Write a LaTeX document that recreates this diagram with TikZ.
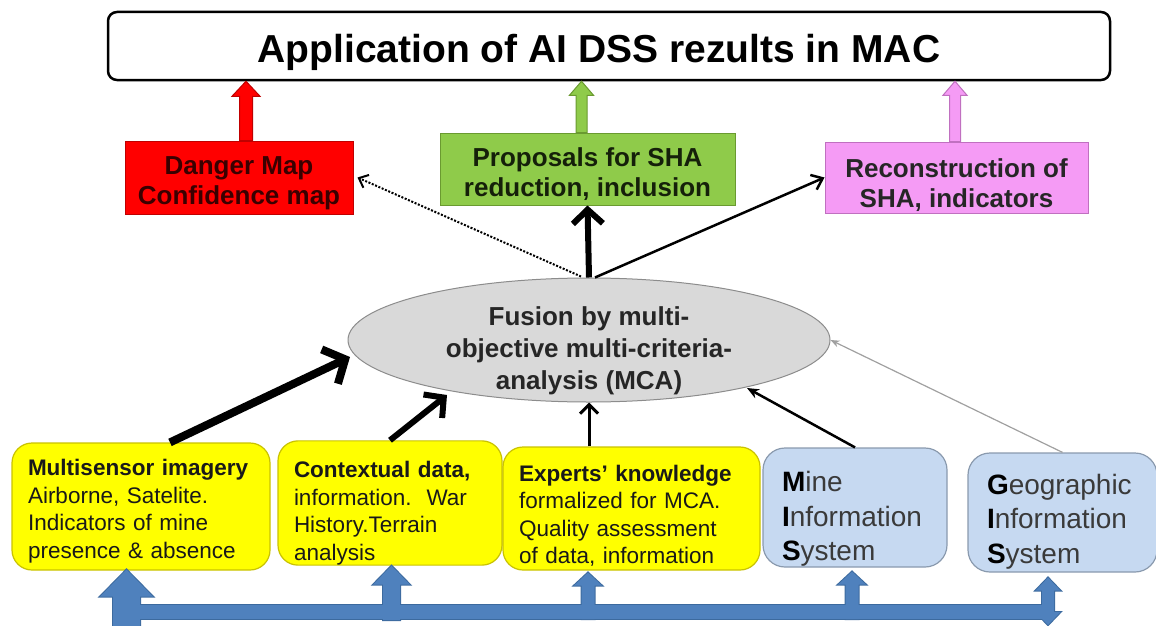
\documentclass[tikz,border=0pt]{standalone}
\usepackage{fontspec}
\setmainfont{Liberation Sans}
\usetikzlibrary{arrows.meta,calc,shapes.geometric}
\definecolor{boxyellow}{HTML}{FFFF00}
\definecolor{yellowline}{HTML}{C9C200}
\definecolor{boxblue}{HTML}{C6D9F1}
\definecolor{blueline}{HTML}{8A9AAE}
\definecolor{ellgray}{HTML}{D9D9D9}
\definecolor{ellline}{HTML}{8C8C8C}
\definecolor{dred}{HTML}{FF0000}
\definecolor{dredline}{HTML}{C00000}
\definecolor{redtext}{HTML}{3A0000}
\definecolor{lgreen}{HTML}{8FCB4A}
\definecolor{lgreenline}{HTML}{6A9A30}
\definecolor{greentext}{HTML}{15200A}
\definecolor{lpink}{HTML}{F59BF5}
\definecolor{lpinkline}{HTML}{C070C0}
\definecolor{busblue}{HTML}{4F81BD}
\definecolor{busline}{HTML}{3C6A9E}
\definecolor{bluetext}{HTML}{3A3A3A}
\definecolor{thingray}{HTML}{A0A0A0}

\hyphenpenalty=10000
\exhyphenpenalty=10000

% block arrow pointing up: #1 style, #2 bottom point, #3 tip point, #4 shaft half, #5 head half, #6 head length
\newcommand{\blockup}[6]{%
  \path[#1] let \p1=#2, \p2=#3 in
    (\x1-#4,\y1) -- (\x1-#4,\y2-#6) -- (\x1-#5,\y2-#6) -- (\x1,\y2)
    -- (\x1+#5,\y2-#6) -- (\x1+#4,\y2-#6) -- (\x1+#4,\y1) -- cycle;}
% double block arrow (up and down)
\newcommand{\blockupdown}[6]{%
  \path[#1] let \p1=#2, \p2=#3 in
    (\x1-#4,\y1+#6) -- (\x1-#4,\y2-#6) -- (\x1-#5,\y2-#6) -- (\x1,\y2)
    -- (\x1+#5,\y2-#6) -- (\x1+#4,\y2-#6) -- (\x1+#4,\y1+#6)
    -- (\x1+#5,\y1+#6) -- (\x1,\y1) -- (\x1-#5,\y1+#6) -- cycle;}
% push the text block of a node down by half of #1
\newcommand{\pushdown}[1]{\rule{0pt}{\dimexpr 0.76em+#1\relax}}

\begin{document}
\begin{tikzpicture}[x=1pt,y=-1pt,
  titlebox/.style={draw=black, line width=2.5pt, rounded corners=9pt, fill=white,
    minimum width=1002pt, minimum height=68pt, inner sep=0pt,
    font=\bfseries\fontsize{39}{42}\selectfont},
  outbox/.style={line width=1pt, minimum height=72pt, inner sep=0pt, align=center,
    font=\bfseries\fontsize{26}{30}\selectfont},
  ybox/.style={draw=yellowline, fill=boxyellow, line width=1.2pt, rounded corners=20pt,
    align=left, inner xsep=16pt, inner ysep=0pt, text=black!90,
    font=\fontsize{22.5}{27.5}\selectfont},
  bbox/.style={draw=blueline, fill=boxblue, line width=1.2pt, rounded corners=22pt,
    align=left, inner xsep=19pt, inner ysep=0pt, text=bluetext,
    font=\fontsize{28}{34.5}\selectfont},
  busout/.style={draw=busline, line width=2pt},
  busin/.style={fill=busblue},
]
\useasboundingbox (0,0) rectangle (1156,626);

% ---------- nodes ----------
\node[titlebox] (title) at (609,46) {\hspace*{-20pt}\pushdown{12pt}Application of AI DSS rezults in MAC};

\node[outbox, fill=dred, draw=dredline, text=redtext, minimum width=228pt, minimum height=73pt]
  (red) at (239,177.5) {\pushdown{10pt}Danger Map\\Confidence map};
\node[outbox, fill=lgreen, draw=lgreenline, text=greentext, minimum width=295pt]
  (green) at (587.5,169) {\pushdown{10pt}Proposals for SHA\\reduction, inclusion};
\node[outbox, fill=lpink, draw=lpinkline, text=black!85, minimum width=263pt, minimum height=71pt]
  (pink) at (956.5,177.5) {\pushdown{14pt}Reconstruction of\\SHA, indicators};

\node[ellipse, draw=ellline, line width=1pt, fill=ellgray, minimum width=482pt, minimum height=124pt,
  inner sep=0pt] (mca) at (589,340) {};
\node[align=center, inner sep=0pt, text=black!85, font=\bfseries\fontsize{26}{32}\selectfont]
  (mcatext) at (589,351) {Fusion by multi-\\objective multi-criteria-\\analysis (MCA)};

\node[ybox, text width=226pt, minimum height=127pt] (y1) at (141,506.5)
  {\pushdown{9pt}\textbf{Multisensor imagery}\\Airborne, Satelite.\\Indicators of mine\\presence \& absence};
\node[ybox, text width=192pt, minimum height=120pt] (y2) at (390,503)
  {\pushdown{20pt}\textbf{Contextual data,}\\information.\ \ War\\History.Terrain\\analysis};
\node[ybox, text width=225pt, minimum height=123pt] (y3) at (631.5,508.5)
  {\pushdown{14pt}\textbf{Experts’ knowledge}\\formalized for MCA.\\Quality assessment\\of data, information};
\node[bbox, text width=146pt, minimum height=119pt] (b1) at (855,507.5)
  {\pushdown{22pt}\textcolor{black}{\textbf{M}}ine\\\textcolor{black}{\textbf{I}}nformation\\\textcolor{black}{\textbf{S}}ystem};
\node[bbox, text width=151pt, minimum height=119pt] (b2) at (1062.5,512.5)
  {\pushdown{17pt}\textcolor{black}{\textbf{G}}eographic\\\textcolor{black}{\textbf{I}}nformation\\\textcolor{black}{\textbf{S}}ystem};

% ---------- block arrows to the title ----------
\blockup{fill=dred, draw=dredline, line width=1pt}{($(red.north)+(7,0)$)}{($(title.south -| red.north)+(7,0)$)}{6.5pt}{14pt}{15pt}
\blockup{fill=lgreen, draw=lgreenline, line width=1pt}{($(green.north)+(-6,0)$)}{($(title.south -| green.north)+(-6,0)$)}{5.5pt}{12pt}{14pt}
\blockup{fill=lpink, draw=lpinkline, line width=1pt}{($(pink.north)+(-1.5,0)$)}{($(title.south -| pink.north)+(-1.5,0)$)}{5.5pt}{12pt}{14pt}

% ---------- connectors out of the ellipse ----------
\draw[line width=6pt, -{Straight Barb[length=14pt,width=30pt]}] (mca.north) -- (green.south);
\draw[line width=2pt, dash pattern=on 2pt off 1.6pt, -{Straight Barb[length=8pt,width=14pt]}]
  ($(mca.north)+(-8,-1)$) -- ($(red.east)+(4,0)$);
\draw[line width=2.5pt, -{Straight Barb[length=10pt,width=16pt]}] ($(mca.north)+(6,0)$) -- (pink.west);

% ---------- connectors into the ellipse ----------
\draw[line width=8pt, -{Straight Barb[length=17pt,width=38pt]}] ($(y1.north)+(29,0)$) -- ($(mca.center)+(-239,17)$);
\draw[line width=6pt, -{Straight Barb[length=14pt,width=30pt]}] (y2.north) -- ($(mca.center)+(-142,55)$);
\draw[line width=3pt, -{Straight Barb[length=9pt,width=18pt]}] (mca.south |- y3.north) -- (mca.south);
\draw[line width=2.5pt, -{Stealth[length=12pt,width=10pt]}] (b1.north) -- ($(mca.center)+(158,48)$);
\draw[line width=1.2pt, draw=thingray, -{Stealth[length=9pt,width=7pt]}] (b2.north) -- (mca.east);

% ---------- blue bus ----------
\coordinate (busL) at (126.5,612);
\coordinate (busR) at (1048,612);
\foreach \s in {busout,busin}{
  \path[\s] ($(busL)+(0,-7)$) rectangle ($(busR)+(0,7)$);
  \blockup{\s}{($(busL)+(0,14)$)}{($(busL |- y1.south)+(0,-1)$)}{13.5pt}{26.5pt}{27pt}
  \blockup{\s}{($(y2.south |- busL)+(1.5,8)$)}{($(y2.south)+(1.5,0)$)}{8.5pt}{18.5pt}{19pt}
  \blockup{\s}{($(mca.south |- busL)+(-1,7)$)}{($(mca.south |- y3.south)+(-1,2)$)}{6.5pt}{14pt}{13pt}
  \blockup{\s}{($(b1.south |- busL)+(-3,7)$)}{($(b1.south)+(-3,4)$)}{6.5pt}{14pt}{13pt}
  \blockupdown{\s}{($(busR)+(0,13)$)}{($(busR |- b2.south)+(0,5)$)}{6pt}{12.5pt}{13pt}
}
\end{tikzpicture}
\end{document}
